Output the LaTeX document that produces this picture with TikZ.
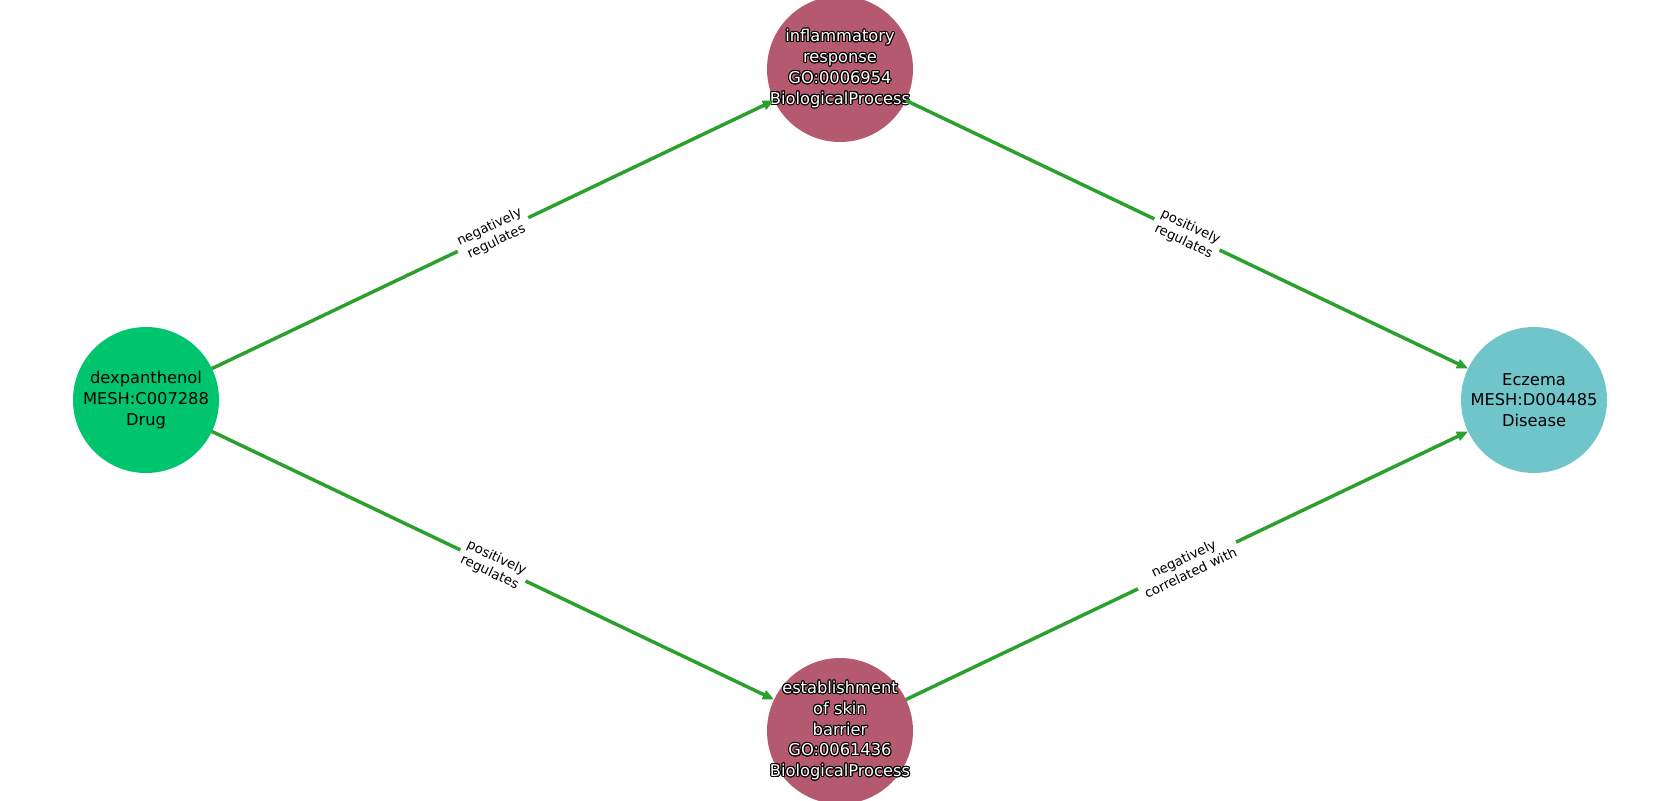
\documentclass[tikz,border=0pt]{standalone}
\usepackage{fontspec}
\setmainfont{DejaVu Sans}
\usepackage{contour}
\contourlength{0.75pt}
\usetikzlibrary{arrows.meta}
\definecolor{drugc}{HTML}{00C46E}
\definecolor{procc}{HTML}{B5596E}
\definecolor{disc}{HTML}{70C5CA}
\definecolor{edgec}{HTML}{2CA02C}
\newcommand{\ol}[1]{\contour{black}{#1}}
\begin{document}
\begin{tikzpicture}[x=0.75pt,y=-0.75pt,
  ent/.style={circle, minimum size=109.5pt, inner sep=0pt, outer sep=0pt},
  nlab/.style={font=\fontsize{12.2}{15.6}\selectfont, align=center, inner sep=0pt},
  wlab/.style={nlab, text=white},
  rel/.style={draw=edgec, line width=2.6pt, -{Triangle[length=8.5pt,width=7pt]}},
  elab/.style={font=\fontsize{10}{12}\selectfont, align=center, fill=white, inner sep=3pt, sloped}]
\useasboundingbox (0,0) rectangle (1680,800);
\node[ent, fill=drugc, label={[nlab]center:dexpanthenol\\MESH:C007288\\Drug}] (dex) at (146,400) {};
\node[ent, fill=procc, label={[wlab]center:\ol{inflammatory}\\\ol{response}\\\ol{GO:0006954}\\\ol{BiologicalProcess}}] (inf) at (840,69) {};
\node[ent, fill=procc, label={[wlab]center:\ol{establishment}\\\ol{of skin}\\\ol{barrier}\\\ol{GO:0061436}\\\ol{BiologicalProcess}}] (skin) at (840,731) {};
\node[ent, fill=disc, label={[nlab]center:Eczema\\MESH:D004485\\Disease}] (ecz) at (1534,400) {};
\draw[rel] (dex) -- node[elab]{negatively\\regulates} (inf);
\draw[rel] (inf) -- node[elab]{positively\\regulates} (ecz);
\draw[rel] (dex) -- node[elab]{positively\\regulates} (skin);
\draw[rel] (skin) -- node[elab]{negatively\\correlated with} (ecz);
\end{tikzpicture}
\end{document}
